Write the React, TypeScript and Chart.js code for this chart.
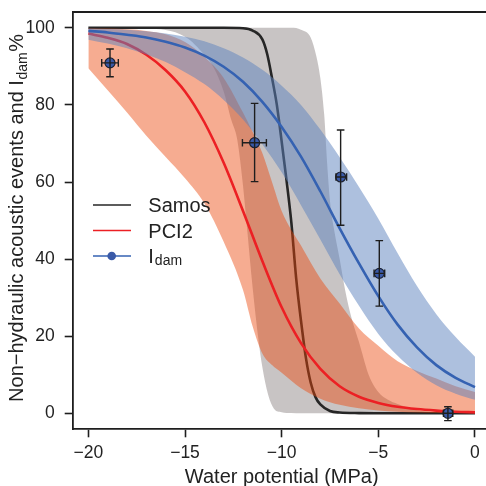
import React, { useEffect, useRef } from 'react';
import { Chart, registerables } from 'chart.js';

Chart.register(...registerables);

// ---- axes ----
const X_TICKS = [-20, -15, -10, -5, 0];
const Y_TICKS = [0, 20, 40, 60, 80, 100];
const X_MIN = -20.81;
const X_MAX = 0.57;
const Y_MIN = -4.15;
const Y_MAX = 104.1;

// ---- fitted curves ----
const LINE_X = [-20, -19, -18, -17, -16, -15, -14, -13, -12, -11, -10, -9, -8, -7, -6, -5, -4, -3, -2, -1, 0];
const PCI2_LINE = [98.5, 97.4, 95.8, 93, 89, 83.5, 75.5, 65, 52.5, 39.5, 27.5, 18.2, 11.5, 7, 4.3, 2.7, 1.7, 1.1, 0.7, 0.4, 0.25];
const IDAM_LINE = [99.2, 98.8, 98.2, 97.5, 96.4, 94.9, 92.8, 89.9, 86, 80.8, 74.3, 66.6, 57.6, 48, 38.9, 30.4, 23, 17.1, 12.5, 9.2, 6.8];
const IDAM_UPPER = [99.8, 99.7, 99.5, 99.1, 98.5, 97.7, 96.5, 94.7, 92.3, 89.1, 85, 80, 73.6, 66.4, 58.7, 50.5, 41.5, 33, 25.7, 19.8, 14.7];
const IDAM_LOWER = [96.9, 95.9, 94.7, 93.1, 91.1, 88.5, 85.4, 81.3, 76.2, 69.8, 62.5, 54, 45.1, 36.1, 27.9, 20.6, 14.9, 10.5, 7.3, 5.1, 3.5];

const PCI2_BAND_X = [-20, -19, -18, -17, -16, -15, -14, -13, -12, -11.5, -11, -10.5, -10, -9, -8, -7, -6, -5, -4, -3, -2, -1, 0];
const PCI2_UPPER = [99.9, 99.8, 99.6, 99.2, 98.3, 96.3, 92.5, 87, 78, 73, 67.5, 60, 52.5, 43.5, 35, 28.5, 22, 17.5, 13.5, 11, 9, 7, 5.5];
const PCI2_LOWER = [89.5, 83.8, 78, 72, 66.5, 61, 54.5, 44.5, 32, 22.5, 15.5, 12.5, 10.5, 6.5, 3.8, 2.2, 1.3, 0.7, 0.4, 0.2, 0.1, 0.05, 0];

const SAMOS_X = [-20, -16, -13, -12, -11.5, -11, -10.75, -10.5, -10.25, -10, -9.75, -9.5, -9.25, -9, -8.75, -8.5, -8.25, -8, -7.5, -7, -6, -4, 0];
const SAMOS_LINE = [100, 100, 100, 99.9, 99.3, 97, 93.2, 87, 80, 70.5, 60.5, 49.5, 35, 24, 14.5, 8, 4.2, 2.3, 0.6, 0.2, 0.05, 0, 0];

const SAMOS_BAND_X = [-20, -17, -15, -14, -13.5, -13, -12.6, -12.3, -12, -11.8, -11.5, -11.2, -11, -10.7, -10.4, -10, -9.5, -9, -8.5, -8.2, -8, -7.8, -7.65, -7.5, -7.3, -7, -6.7, -6.4, -6, -5.5, -5, -4.5, -4, -3, -2, -1, 0];
const SAMOS_UPPER = [100, 100, 100, 100, 100, 100, 100, 100, 100, 100, 100, 100, 100, 100, 100, 100, 100, 99.5, 97.5, 92.5, 87, 77.5, 65, 55, 48, 40, 31.5, 25, 18.5, 10, 5.5, 3.5, 2.4, 0.8, 0.3, 0.1, 0];
const SAMOS_LOWER = [100, 99.8, 97.7, 93, 89.5, 83.5, 76, 71, 59, 48.5, 32.5, 19, 12, 4.8, 1.2, 0.3, 0.05, 0, 0, 0, 0, 0, 0, 0, 0, 0, 0, 0, 0, 0, 0, 0, 0, 0, 0, 0, 0];

// ---- I_dam observations ----
const IDAM_PTS_X = [-18.88, -11.4, -6.95, -4.95, -1.4];
const IDAM_PTS_Y = [90.9, 70.2, 61.3, 36.3, 0];
const IDAM_X_LO = [-19.31, -12.03, -7.19, -5.22, -1.63];
const IDAM_X_HI = [-18.45, -10.79, -6.64, -4.67, -1.15];
const IDAM_Y_LO = [87.3, 60.1, 48.8, 27.8, -1.9];
const IDAM_Y_HI = [94.5, 80.4, 73.5, 44.8, 1.7];

// ---- legend ----
const LEGEND_LABELS = ['Samos', 'PCI2', 'I'];
const LEGEND_SUB = ['', '', 'dam'];

const FONT = '"Liberation Sans", Arial, Helvetica, sans-serif';
const F = (s: number) => `${s}px ${FONT}`;
const INK = '#1e1e1e';
const BLACK = '#262626';
const RED = '#ec2024';
const BLUE = '#3562b2';
const POINT_FILL = '#3a5aa8';
const GREY_FILL = 'rgba(132,124,124,0.45)';
const ORANGE_FILL = 'rgba(236,72,12,0.45)';
const BLUE_FILL = 'rgba(92,130,190,0.5)';

const pts = (xs: number[], ys: number[]) => xs.map((x, i) => ({ x, y: ys[i] }));

const fmt = (v: number) => (v < 0 ? '\u2212' + Math.abs(v) : String(v));

const overlay = {
  id: 'overlay',
  afterDatasetsDraw(chart: any) {
    const { ctx, scales } = chart;
    const x = scales.x;
    const y = scales.y;
    ctx.save();
    ctx.strokeStyle = INK;
    ctx.lineWidth = 1.4;
    const cap = 3.8;
    for (let i = 0; i < IDAM_PTS_X.length; i++) {
      const px = x.getPixelForValue(IDAM_PTS_X[i]);
      const py = y.getPixelForValue(IDAM_PTS_Y[i]);
      const xl = x.getPixelForValue(IDAM_X_LO[i]);
      const xh = x.getPixelForValue(IDAM_X_HI[i]);
      const yl = y.getPixelForValue(IDAM_Y_LO[i]);
      const yh = y.getPixelForValue(IDAM_Y_HI[i]);
      ctx.beginPath();
      ctx.moveTo(xl, py); ctx.lineTo(xh, py);
      ctx.moveTo(xl, py - cap); ctx.lineTo(xl, py + cap);
      ctx.moveTo(xh, py - cap); ctx.lineTo(xh, py + cap);
      ctx.moveTo(px, yl); ctx.lineTo(px, yh);
      ctx.moveTo(px - cap, yl); ctx.lineTo(px + cap, yl);
      ctx.moveTo(px - cap, yh); ctx.lineTo(px + cap, yh);
      ctx.stroke();
    }
    ctx.restore();
  },
  afterDraw(chart: any) {
    const { ctx, chartArea } = chart;
    ctx.save();
    // top frame line
    ctx.strokeStyle = INK;
    ctx.lineWidth = 1.8;
    ctx.beginPath();
    ctx.moveTo(chartArea.left, chartArea.top);
    ctx.lineTo(chartArea.right, chartArea.top);
    ctx.stroke();

    // legend
    const rows = [205, 230.5, 256];
    const cols = [BLACK, RED, BLUE];
    for (let i = 0; i < rows.length; i++) {
      const ry = rows[i];
      ctx.strokeStyle = cols[i];
      ctx.lineWidth = 1.6;
      ctx.beginPath();
      ctx.moveTo(93, ry);
      ctx.lineTo(131, ry);
      ctx.stroke();
      if (i === 2) {
        ctx.fillStyle = POINT_FILL;
        ctx.beginPath();
        ctx.arc(111.7, ry, 4.3, 0, Math.PI * 2);
        ctx.fill();
      }
      ctx.fillStyle = '#222';
      ctx.textAlign = 'left';
      ctx.textBaseline = 'alphabetic';
      ctx.font = F(20);
      ctx.fillText(LEGEND_LABELS[i], 148.3, ry + 7.2);
      if (LEGEND_SUB[i]) {
        const w = ctx.measureText(LEGEND_LABELS[i]).width;
        ctx.font = F(14);
        ctx.fillText(LEGEND_SUB[i], 148.3 + w + 1, ry + 9);
      }
    }

    // x title
    ctx.fillStyle = '#222';
    ctx.font = F(20);
    ctx.textAlign = 'center';
    ctx.textBaseline = 'alphabetic';
    ctx.fillText('Water potential (MPa)', 281.7, 482.5);

    // y title with subscript
    ctx.translate(23.3, 218);
    ctx.rotate(-Math.PI / 2);
    ctx.textAlign = 'left';
    const main = 'Non\u2212hydraulic acoustic events and I';
    ctx.font = F(20);
    const w1 = ctx.measureText(main).width;
    ctx.font = F(14);
    const w2 = ctx.measureText('dam').width;
    ctx.font = F(20);
    const w3 = ctx.measureText('%').width;
    let cx = -(w1 + w2 + w3 + 1) / 2;
    ctx.fillText(main, cx, 0);
    cx += w1 + 0.5;
    ctx.font = F(14);
    ctx.fillText('dam', cx, 4);
    cx += w2 + 0.5;
    ctx.font = F(20);
    ctx.fillText('%', cx, 0);
    ctx.restore();
  },
};

const lineDs = (data: any[], color: string, order: number) => ({
  type: 'line',
  data,
  borderColor: color,
  borderWidth: 2.6,
  pointRadius: 0,
  fill: false,
  cubicInterpolationMode: 'monotone',
  order,
});

const bandDs = (data: any[], fillColor: string, order: number, target: number | false) => ({
  type: 'line',
  data,
  borderColor: 'rgba(0,0,0,0)',
  backgroundColor: fillColor,
  borderWidth: 0,
  pointRadius: 0,
  fill: target === false ? false : target,
  cubicInterpolationMode: 'monotone',
  order,
});

const zeroPad = (s: any) => {
  s.paddingTop = 0;
  s.paddingBottom = 0;
  s.paddingLeft = 0;
  s.paddingRight = 0;
};

export default function App() {
  const ref = useRef<HTMLCanvasElement | null>(null);

  useEffect(() => {
    if (!ref.current) return;
    const chart = new Chart(ref.current, {
      type: 'line',
      data: {
        datasets: [
          lineDs(pts(LINE_X, IDAM_LINE), BLUE, 1) as any, // 0
          bandDs(pts(LINE_X, IDAM_UPPER), BLUE_FILL, 2, 2) as any, // 1
          bandDs(pts(LINE_X, IDAM_LOWER), BLUE_FILL, 2, false) as any, // 2
          lineDs(pts(LINE_X, PCI2_LINE), RED, 3) as any, // 3
          bandDs(pts(PCI2_BAND_X, PCI2_UPPER), ORANGE_FILL, 4, 5) as any, // 4
          bandDs(pts(PCI2_BAND_X, PCI2_LOWER), ORANGE_FILL, 4, false) as any, // 5
          lineDs(pts(SAMOS_X, SAMOS_LINE), BLACK, 5) as any, // 6
          bandDs(pts(SAMOS_BAND_X, SAMOS_UPPER), GREY_FILL, 6, 8) as any, // 7
          bandDs(pts(SAMOS_BAND_X, SAMOS_LOWER), GREY_FILL, 6, false) as any, // 8
          {
            type: 'scatter',
            data: pts(IDAM_PTS_X, IDAM_PTS_Y),
            showLine: false,
            pointRadius: 5,
            pointBackgroundColor: POINT_FILL,
            pointBorderColor: '#1b2233',
            pointBorderWidth: 1.2,
            order: 0,
          } as any, // 9
        ],
      },
      options: {
        responsive: false,
        animation: false,
        events: [],
        layout: { autoPadding: false, padding: { top: 12, left: 0, right: 0, bottom: 0 } },
        plugins: {
          legend: { display: false },
          tooltip: { enabled: false },
          filler: { propagate: false },
        },
        scales: {
          x: {
            type: 'linear',
            min: X_MIN,
            max: X_MAX,
            afterBuildTicks: (s: any) => {
              s.ticks = X_TICKS.map((v) => ({ value: v }));
            },
            afterFit: (s: any) => {
              s.height = 56.7;
              zeroPad(s);
            },
            ticks: {
              callback: (v: any) => fmt(Number(v)),
              font: { size: 17.5, family: FONT },
              color: '#222',
              padding: 5,
              maxRotation: 0,
            },
            grid: {
              display: true,
              drawOnChartArea: false,
              drawTicks: true,
              tickLength: 8,
              tickColor: INK,
              tickWidth: 1.6,
            },
            border: { display: true, color: INK, width: 1.8 },
          },
          y: {
            type: 'linear',
            min: Y_MIN,
            max: Y_MAX,
            afterBuildTicks: (s: any) => {
              s.ticks = Y_TICKS.map((v) => ({ value: v }));
            },
            afterFit: (s: any) => {
              s.width = 72.7;
              zeroPad(s);
            },
            ticks: {
              callback: (v: any) => fmt(Number(v)),
              font: { size: 17.5, family: FONT },
              color: '#222',
              padding: 10,
            },
            grid: {
              display: true,
              drawOnChartArea: false,
              drawTicks: true,
              tickLength: 8,
              tickColor: INK,
              tickWidth: 1.6,
            },
            border: { display: true, color: INK, width: 1.8 },
          },
        },
      } as any,
      plugins: [overlay as any],
    });
    return () => chart.destroy();
  }, []);

  return (
    <div style={{ position: 'fixed', left: 0, top: 0, width: 486, height: 486, background: '#fff' }}>
      <canvas ref={ref} width={486} height={486} style={{ display: 'block', width: 486, height: 486 }} />
    </div>
  );
}
